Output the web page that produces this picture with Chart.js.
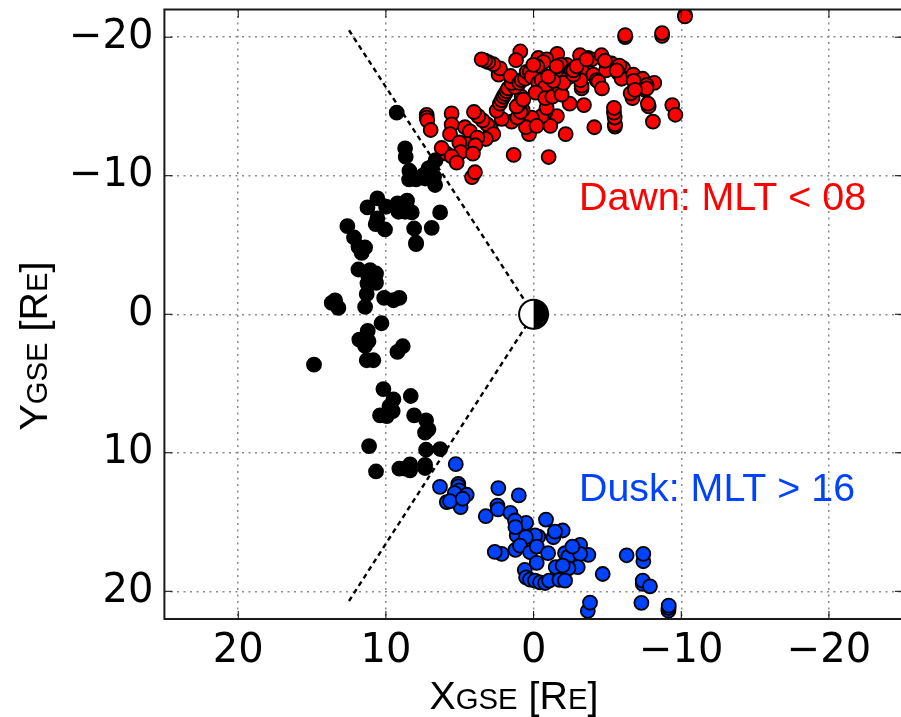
<!DOCTYPE html>
<html>
<head>
<meta charset="utf-8">
<style>
  html, body { margin: 0; padding: 0; background: #fff; overflow: hidden; }
  canvas { display: block; }
</style>
<script src="https://cdn.jsdelivr.net/npm/chart.js@4/dist/chart.umd.js"></script>
</head>
<body>
<canvas id="orbitas" width="905" height="717" style="width:905px;height:717px"></canvas>
<script>
// tick labels
const xTicks = [20, 10, 0, -10, -20];
const yTicks = [-20, -10, 0, 10, 20];

// dawn sector, [XGSE, YGSE]
const dawnPoints = [
  [-10.25,-21.6],[-10.25,-21.5],[-8.7,-20.1],[-8.7,-20.3],[-6.2,-20.0],[-6.2,-20.15],
  [2.37,-17.3],[2.28,-17.75],[2.73,-18.05],[3.07,-18.2],[3.29,-18.3],[3.52,-18.4],
  [0.9,-18.97],[1.19,-18.34],[-0.32,-18.5],[-1.6,-18.8],[-0.88,-18.4],[-0.66,-18.2],
  [-0.25,-17.9],[-2.24,-18.0],[-1.85,-18.0],[-1.45,-17.4],[-2.35,-17.1],[-2.57,-17.6],
  [-3.7,-18.5],[-3.93,-18.4],[-3.14,-18.7],[-3.32,-18.05],[-3.25,-17.6],[-4.04,-17.3],
  [-4.6,-18.7],[-5.28,-18.1],[-4.9,-17.6],[-4.83,-18.3],[-6.07,-17.76],[-5.8,-17.95],
  [-5.74,-17.4],[-5.96,-17.0],[-6.75,-17.3],[-7.38,-17.0],[-6.77,-16.85],[-8.17,-16.7],
  [-7.65,-16.55],[-7.54,-16.2],[-7.65,-16.3],[-6.7,-15.6],[-6.57,-15.95],[-6.86,-16.2],
  [-4.27,-16.9],[-4.38,-16.8],[-4.63,-16.3],[-3.25,-16.3],[-3.25,-16.5],[-3.18,-16.9],
  [-7.79,-15.0],[-7.74,-15.2],[-9.39,-15.1],[-9.6,-14.4],[-8.08,-13.9],[-5.51,-13.55],
  [-5.51,-13.7],[-5.49,-14.2],[-5.44,-14.55],[-5.44,-14.9],[-4.11,-13.5],[-3.41,-15.1],
  [-2.44,-15.2],[-2.17,-13.0],[-1.58,-14.3],[-1.13,-13.6],[-1.02,-11.35],[1.35,-11.5],
  [-0.81,-14.6],[-0.54,-14.3],[0.13,-14.2],[0.31,-13.0],[0.52,-13.5],[-0.2,-13.6],
  [1.49,-13.9],[2.16,-14.1],[1.1,-14.2],[0.74,-14.75],[0.88,-14.6],[1.04,-15.1],
  [1.15,-15.0],[0.81,-15.7],[0.7,-15.5],[2.5,-14.7],[2.28,-15.2],[2.17,-15.45],[2.05,-15.7],
  [1.94,-15.9],[1.83,-16.1],[1.72,-16.3],[1.26,-16.4],[1.49,-16.7],[1.56,-17.2],[0.97,-16.7],[0.81,-16.9],
  [0.58,-17.0],[0.47,-17.5],[0.25,-17.5],[0.13,-17.15],[0.02,-18.0],[-0.32,-16.7],
  [-0.54,-16.9],[-0.77,-16.4],[-0.14,-16.0],[-0.88,-14.9],[-0.79,-15.6],[-1.27,-15.7],
  [-1.79,-16.3],[-1.9,-15.85],[-2.01,-16.7],[-1.33,-16.85],[-0.99,-17.15],[-1.56,-17.9],
  [-2.69,-17.3],[-2.69,-17.6],[-2.91,-17.9],[-3.59,-18.4],[-5.62,-17.6],
  [7.24,-14.4],[7.24,-14.2],[7.2,-14.0],[6.97,-13.3],[5.55,-14.5],[5.55,-13.7],
  [5.66,-13.0],[4.65,-13.5],[4.31,-13.2],[2.91,-13.4],[3.14,-13.7],[3.45,-14.0],
  [3.75,-14.3],[4.04,-14.6],[2.73,-13.0],[3.23,-12.65],[3.81,-12.75],[4.53,-12.3],
  [5.03,-12.4],[3.95,-12.2],[4.94,-11.7],[4.11,-11.6],[5.89,-11.6],[6.23,-12.0],
  [5.55,-11.4],[5.21,-10.95],[4.17,-9.9],[3.97,-10.25]
];

// midnight sector, all black
const nightPoints = [
  [9.27,-14.55],[8.7,-11.98],[8.66,-11.37],[8.41,-10.36],[8.43,-9.73],[7.96,-9.73],
  [7.46,-10.05],[7.12,-10.53],[6.63,-11.13],[6.9,-10.65],[6.74,-9.93],[6.67,-9.33],
  [7.35,-9.8],[10.58,-8.36],[11.25,-7.71],[9.99,-7.76],[9.22,-8.0],[8.57,-8.2],
  [9.15,-7.4],[8.7,-7.4],[8.25,-7.35],[8.6,-7.76],[6.33,-7.35],[10.58,-6.92],
  [10.69,-6.5],[10.06,-6.12],[8.09,-6.19],[6.9,-6.24],[12.61,-6.36],[12.16,-5.54],
  [11.86,-4.87],[11.41,-4.82],[11.64,-4.43],[7.96,-5.16],[7.96,-5.06],[11.86,-3.23],
  [11.07,-3.18],[10.67,-2.94],[11.19,-2.7],[10.73,-2.46],[11.25,-2.22],[11.07,-2.27],
  [10.67,-2.27],[11.3,-1.45],[11.41,-0.53],[10.12,-1.18],[9.49,-1.01],[9.09,-1.18],
  [13.44,-1.0],[13.67,-0.82],[13.22,-0.46],[10.3,0.65],[11.23,1.2],[11.8,1.83],
  [11.18,1.95],[11.41,2.29],[8.86,2.31],[9.22,2.72],[11.3,3.32],[10.85,3.32],
  [14.87,3.64],[10.17,5.4],[8.32,5.9],[9.49,6.14],[9.76,6.65],[9.54,6.99],
  [10.4,7.3],[9.94,7.35],[8.09,7.3],[7.28,7.66],[7.12,8.31],[7.35,8.55],
  [11.14,9.52],[7.28,9.78],[6.33,9.73],[10.67,11.35],[7.35,10.87],[7.35,11.1],
  [9.09,11.15],[8.36,10.84],[8.36,11.27],[8.7,11.15]
];

// dusk sector, [XGSE, YGSE]
const duskPoints = [
  [5.27,10.82],[6.34,12.46],[5.1,12.24],[5.1,12.43],[5.03,12.72],[5.34,12.91],
  [4.53,13.03],[4.94,13.93],[5.88,13.56],[5.66,13.49],[4.8,13.32],[2.39,12.55],
  [1.0,13.08],[2.45,13.81],[2.41,14.09],[3.24,14.58],[1.57,14.34],[0.51,15.06],
  [1.26,14.89],[1.14,15.97],[1.23,15.37],[-0.84,14.82],[-1.97,15.61],[-1.34,16.1],
  [-1.45,15.69],[-0.32,16.05],[-0.1,15.97],[0.53,16.09],[1.23,17.01],[0.92,16.7],
  [0.24,17.18],[-0.21,16.77],[-0.98,17.25],[2.16,17.3],[2.63,17.16],[-0.21,17.95],
  [-3.71,17.37],[-3.15,16.65],[-2.13,17.25],[-2.36,17.49],[-3.15,17.3],[-2.63,16.77],
  [-2.99,18.26],[-2.36,18.34],[-1.5,18.26],[-1.97,18.14],[0.6,18.46],[0.51,18.99],
  [0.24,19.16],[-0.1,19.23],[-0.44,19.35],[-0.78,19.4],[-1.05,19.23],[-1.75,19.18],
  [-2.13,19.23],[-4.68,18.75],[-6.3,17.4],[-7.43,17.83],[-7.43,17.3],[-7.39,19.47],
  [-7.39,19.23],[-7.88,19.64],[-3.67,21.42],[-3.82,20.82],[-7.3,20.84],[-9.13,21.4],
  [-9.14,21.2],[-9.15,21.03]
];

// sector boundaries
const dawnEdge = [[12.5, -20.5], [0, 0]];
const duskEdge = [[12.5, 20.7], [0, 0]];

const tickFont = 'DejaVu Sans';
const textFont = 'Liberation Sans';

function toXY(list) {
  return list.map(p => ({ x: p[0], y: p[1] }));
}

function minusLabel(v) {
  return v < 0 ? '\u2212' + Math.abs(v) : String(v);
}

function puntos(label, list, fill) {
  return {
    label: label,
    data: toXY(list),
    backgroundColor: fill,
    borderColor: '#000',
    borderWidth: 1.8,
    pointRadius: 7,
    showLine: false
  };
}

function borde(label, list) {
  return {
    label: label,
    data: toXY(list),
    showLine: true,
    borderColor: '#000',
    borderWidth: 2.4,
    borderDash: [5, 4],
    pointRadius: 0
  };
}

// small caps label, pieces are [text, isSmall]
function mixedText(ctx, pieces, big, small) {
  let total = 0;
  pieces.forEach(p => {
    ctx.font = (p[1] ? small : big) + 'px "' + textFont + '"';
    total += ctx.measureText(p[0]).width;
  });
  let pos = -total / 2;
  pieces.forEach(p => {
    ctx.font = (p[1] ? small : big) + 'px "' + textFont + '"';
    ctx.fillText(p[0], pos, 0);
    pos += ctx.measureText(p[0]).width;
  });
}

const marco = {
  id: 'marco',
  afterDatasetsDraw(chart) {
    const ctx = chart.ctx;
    const a = chart.chartArea;
    const sx = chart.scales.x;
    const sy = chart.scales.y;
    ctx.save();

    // inner ticks
    ctx.strokeStyle = '#000';
    ctx.lineWidth = 1;
    ctx.beginPath();
    xTicks.forEach(v => {
      const px = sx.getPixelForValue(v);
      ctx.moveTo(px, a.bottom); ctx.lineTo(px, a.bottom - 8);
      ctx.moveTo(px, a.top); ctx.lineTo(px, a.top + 8);
    });
    yTicks.forEach(v => {
      const py = sy.getPixelForValue(v);
      ctx.moveTo(a.left, py); ctx.lineTo(a.left + 8, py);
      ctx.moveTo(a.right, py); ctx.lineTo(a.right - 8, py);
    });
    ctx.stroke();

    // spines
    ctx.strokeStyle = '#1a1a1a';
    ctx.lineWidth = 2;
    ctx.strokeRect(a.left, a.top, a.right - a.left, a.bottom - a.top);

    // earth, night side to the right
    const cx = sx.getPixelForValue(0);
    const cy = sy.getPixelForValue(0);
    ctx.beginPath();
    ctx.arc(cx, cy, 14.5, 0, Math.PI * 2);
    ctx.fillStyle = '#fff';
    ctx.fill();
    ctx.beginPath();
    ctx.arc(cx, cy, 14.5, -Math.PI / 2, Math.PI / 2);
    ctx.closePath();
    ctx.fillStyle = '#000';
    ctx.fill();
    ctx.beginPath();
    ctx.arc(cx, cy, 14.5, 0, Math.PI * 2);
    ctx.strokeStyle = '#000';
    ctx.lineWidth = 2;
    ctx.stroke();

    // sector labels
    ctx.textBaseline = 'alphabetic';
    ctx.textAlign = 'left';
    ctx.font = '39.4px "' + textFont + '"';
    ctx.fillStyle = '#ff0000';
    ctx.fillText('Dawn: MLT < 08', sx.getPixelForValue(-3.07), sy.getPixelForValue(-7.5));
    ctx.fillStyle = '#0043ff';
    ctx.fillText('Dusk: MLT > 16', sx.getPixelForValue(-3.07), sy.getPixelForValue(13.5));

    // axis labels
    ctx.fillStyle = '#000';
    ctx.save();
    ctx.translate(514, 709);
    mixedText(ctx, [['X', 0], ['GSE', 1], [' [R', 0], ['E', 1], [']', 0]], 39.4, 29.3);
    ctx.restore();
    ctx.save();
    ctx.translate(47, 346);
    ctx.rotate(-Math.PI / 2);
    mixedText(ctx, [['Y', 0], ['GSE', 1], [' [R', 0], ['E', 1], [']', 0]], 39.4, 29.3);
    ctx.restore();

    ctx.restore();
  }
};

const orbitas = new Chart(document.getElementById('orbitas').getContext('2d'), {
  type: 'scatter',
  data: {
    datasets: [
      borde('Dawn edge', dawnEdge),
      borde('Dusk edge', duskEdge),
      puntos('Dusk', duskPoints, '#0043ff'),
      puntos('Dawn', dawnPoints, '#ff0000'),
      puntos('Night', nightPoints, '#000')
    ]
  },
  plugins: [marco],
  options: {
    responsive: false,
    animation: false,
    layout: { autoPadding: false, padding: { top: 9.5, right: 2.2, left: 0, bottom: 0 } },
    plugins: { legend: { display: false }, tooltip: { enabled: false } },
    scales: {
      x: {
        type: 'linear',
        reverse: true,
        min: -25,
        max: 25,
        afterBuildTicks(scale) { scale.ticks = xTicks.map(v => ({ value: v })); },
        afterFit(scale) {
          scale.height = 98;
          scale.paddingLeft = 0;
          scale.paddingRight = 0;
        },
        grid: { color: '#8a8a8a', lineWidth: 1.5, drawTicks: false },
        border: { display: false, dash: [2, 4.5] },
        ticks: {
          maxRotation: 0,
          autoSkip: false,
          padding: 9,
          color: '#000',
          font: { family: tickFont, size: 40 },
          callback: minusLabel
        }
      },
      y: {
        type: 'linear',
        reverse: true,
        min: -22,
        max: 22,
        afterBuildTicks(scale) { scale.ticks = yTicks.map(v => ({ value: v })); },
        afterFit(scale) {
          scale.width = 164.4;
          scale.paddingTop = 0;
          scale.paddingBottom = 0;
        },
        grid: { color: '#8a8a8a', lineWidth: 1.5, drawTicks: false },
        border: { display: false, dash: [2, 4.5] },
        ticks: {
          autoSkip: false,
          padding: 11,
          color: '#000',
          font: { family: tickFont, size: 40 },
          callback: minusLabel
        }
      }
    }
  }
});
</script>
</body>
</html>
